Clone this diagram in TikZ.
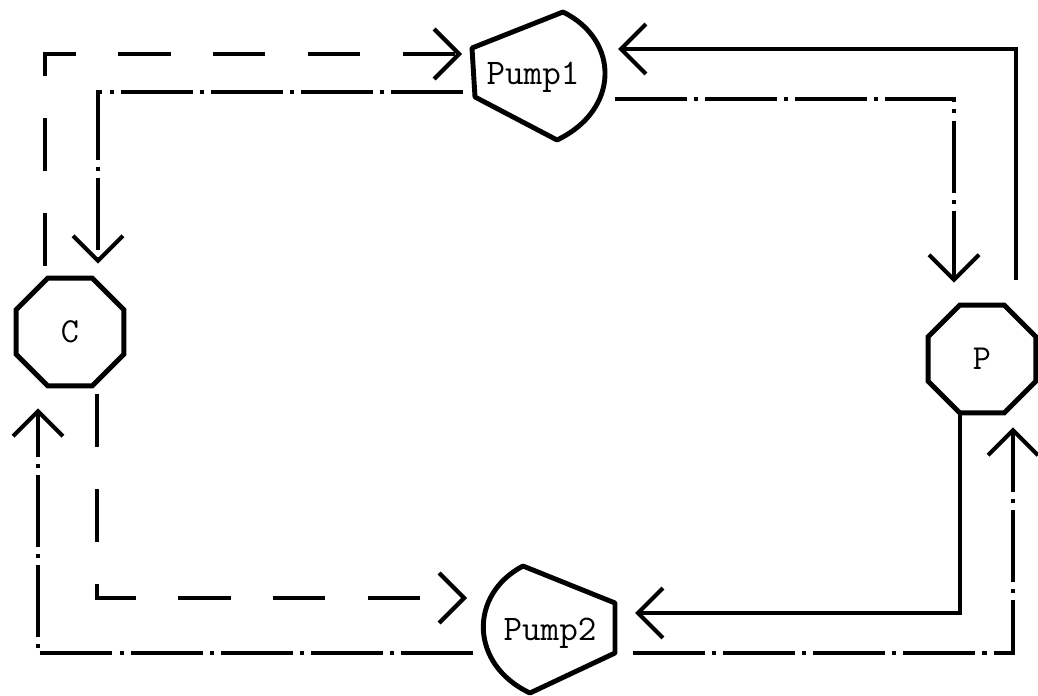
\documentclass[tikz,border=0pt]{standalone}
\usepackage{fontspec}
\usepackage{tikz}
\usetikzlibrary{arrows.meta,shapes.geometric,calc}
\tikzstyle{vessel}=[
        regular polygon,
        regular polygon sides=8,
        draw,
        line width=2.8pt,
        minimum size=2.33cm,
        inner sep=0pt,
        font=\ttfamily\fontsize{20}{20}\selectfont
]
\tikzstyle{pumplabel}=[
        font=\ttfamily\fontsize{20.5}{20.5}\selectfont
]
\tikzstyle{pumpbody}=[
        line width=2.8pt,
        line join=round
]
\tikzstyle{flow}=[
        line width=2.4pt,
        -{Straight Barb[length=0.5cm,width=1cm]}
]
\tikzstyle{solidflow}=[flow]
\tikzstyle{dashflow}=[flow, dash pattern=on 30pt off 24pt]
\tikzstyle{dashdotflow}=[flow, dash pattern=on 41pt off 4pt on 2.3pt off 4pt]

\begin{document}
\begin{tikzpicture}[x=0.02cm,y=-0.02cm]
                        \useasboundingbox (0,0) rectangle (1038,696);

                        \node[vessel] (C) at (70,332) {C};
                        \node[vessel] (P) at (982,359) {P};
                        \node[pumplabel] (pump1) at (533,77) {Pump1};
                        \node[pumplabel] (pump2) at (550,633) {Pump2};

                        % pump outlines
                        \draw[pumpbody] (563,12) .. controls (620,40) and (620,110) .. (557,140) -- (475,97) -- (472,48) -- cycle;
                        \draw[pumpbody] (530,693) .. controls (470,665) and (468,595) .. (523,566) -- (615,603) -- (615,653) -- cycle;

                        % C side
                        \draw[dashflow] ($(C.north)+(-25,-10)$) |- ($(pump1)+(-71,-23)$);
                        \draw[dashdotflow] ($(pump1)+(-70,15)$) -| ($(C.north)+(28,-12)$);
                        \draw[dashflow] ($(C.south)+(27,6)$) |- ($(pump2)+(-83,-35)$);
                        \draw[dashdotflow] ($(pump2)+(-77,20)$) -| ($(C.south)+(-32,20)$);

                        % P side
                        \draw[dashdotflow] ($(pump1)+(82,22)$) -| ($(P.north)+(-28,-20)$);
                        \draw[solidflow] ($(P.north)+(34,-23)$) |- ($(pump1)+(85,-28)$);
                        \draw[solidflow] ($(P.south)+(-22,0)$) |- ($(pump2)+(85,-20)$);
                        \draw[dashdotflow] ($(pump2)+(83,20)$) -| ($(P.south)+(31,12)$);
                    \end{tikzpicture}
\end{document}
